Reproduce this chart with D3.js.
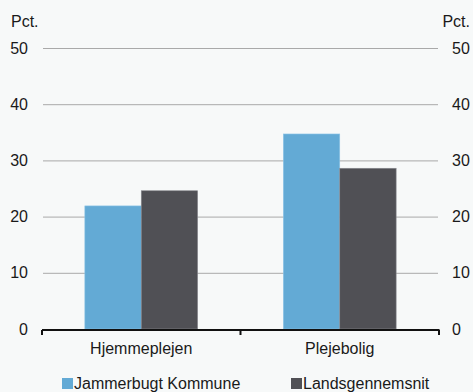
<!DOCTYPE html>
<html><head><meta charset="utf-8">
<script src="https://cdn.jsdelivr.net/npm/d3@7"></script>
<style>
html,body{margin:0;padding:0;background:#f7f9f9;}
svg{display:block;font-family:"Liberation Sans",Arial,sans-serif;}
</style></head>
<body><svg id="c" width="473" height="392"></svg>
<script>
const categories = ["Hjemmeplejen", "Plejebolig"];
const seriesNames = ["Jammerbugt Kommune", "Landsgennemsnit"];
const jammerbugt = [21.9, 34.7];
const landsgennemsnit = [24.6, 28.6];
const yTicks = [0, 10, 20, 30, 40, 50];
const colors = ["#63aad5", "#505055"];

(function () {
const svg = d3.select("#c");
const mLeft = 42, mRight = 439, mTop = 48, mBottom = 329;
const y = d3.scaleLinear().domain([0, 50]).range([mBottom, mTop]);
const x0 = d3.scaleBand().domain(categories).range([mLeft, mRight]).paddingInner(0).paddingOuter(0);
const x1 = d3.scaleBand().domain(seriesNames).range([0, x0.bandwidth()]).paddingOuter(0.76).paddingInner(0);
const values = [jammerbugt, landsgennemsnit];

// gridlines
svg.append("g").selectAll("line").data(yTicks.filter(d => d > 0)).join("line")
  .attr("x1", mLeft + 1).attr("x2", mRight - 1)
  .attr("y1", d => y(d) + 0.5).attr("y2", d => y(d) + 0.5)
  .attr("stroke", "#a9a9a9").attr("stroke-width", 1);

// bars
seriesNames.forEach((s, si) => {
  svg.append("g").selectAll("rect").data(categories).join("rect")
    .attr("x", c => x0(c) + x1(s))
    .attr("width", x1.bandwidth())
    .attr("y", (c, i) => y(values[si][i]))
    .attr("height", (c, i) => y(0) - y(values[si][i]))
    .attr("fill", colors[si])
    .attr("stroke", si === 0 ? "#8cc4e6" : "#8a8a90").attr("stroke-width", 0.6);
});

// y axis labels
svg.append("g").selectAll("text").data(yTicks).join("text")
  .attr("x", 28).attr("y", d => y(d)).attr("dy", "0.35em")
  .attr("text-anchor", "end").attr("font-size", 16).attr("fill", "#1a1a1a").text(d => d);
svg.append("g").selectAll("text").data(yTicks).join("text")
  .attr("x", 452).attr("y", d => y(d)).attr("dy", "0.35em")
  .attr("text-anchor", "start").attr("font-size", 16).attr("fill", "#1a1a1a").text(d => d);
svg.append("text").attr("x", 11).attr("y", 21).attr("dy", "0.35em")
  .attr("font-size", 16).attr("fill", "#1a1a1a").text("Pct.");
svg.append("text").attr("x", 470).attr("y", 21).attr("dy", "0.35em").attr("text-anchor", "end")
  .attr("font-size", 16).attr("fill", "#1a1a1a").text("Pct.");

// bottom axis
const ax = svg.append("g").attr("transform", `translate(0,${mBottom + 1})`);
ax.append("line").attr("x1", mLeft).attr("x2", mRight + 0.5).attr("y1", 0).attr("y2", 0)
  .attr("stroke", "#111").attr("stroke-width", 2);
const bounds = [mLeft, x0(categories[1]), mRight];
ax.selectAll("line.tk").data(bounds).join("line").attr("class", "tk")
  .attr("x1", d => d).attr("x2", d => d).attr("y1", 0).attr("y2", 5)
  .attr("stroke", "#111").attr("stroke-width", 2);
ax.selectAll("text").data(categories).join("text")
  .attr("x", c => x0(c) + x0.bandwidth() / 2).attr("y", 18).attr("dy", "0.35em")
  .attr("text-anchor", "middle").attr("font-size", 16).attr("fill", "#1a1a1a").text(c => c);

// legend
const legX = [62, 291];
seriesNames.forEach((s, i) => {
  svg.append("rect").attr("x", legX[i]).attr("y", 378).attr("width", 11).attr("height", 11).attr("fill", colors[i]);
  svg.append("text").attr("x", legX[i] + 12).attr("y", 383.5).attr("dy", "0.35em")
    .attr("font-size", 16).attr("fill", "#1a1a1a").text(s);
});
})();
</script></body></html>
